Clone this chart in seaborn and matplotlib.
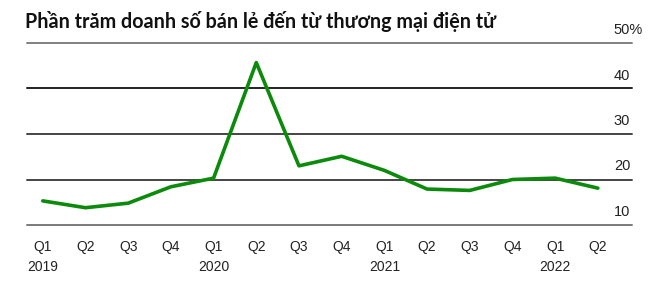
import matplotlib
matplotlib.use("Agg")
import matplotlib.pyplot as plt
import matplotlib.transforms as mtransforms
import seaborn as sns
import pandas as pd

title = "Phần trăm doanh số bán lẻ đến từ thương mại điện tử"
quarters = ["Q1", "Q2", "Q3", "Q4", "Q1", "Q2", "Q3", "Q4", "Q1", "Q2", "Q3", "Q4", "Q1", "Q2"]
years = ["2019", "", "", "", "2020", "", "", "", "2021", "", "", "", "2022", ""]
values = [15.3, 13.8, 14.8, 18.4, 20.3, 45.7, 23.0, 25.1, 22.0, 17.9, 17.6, 20.0, 20.3, 18.1]
y_ticks = [10, 20, 30, 40, 50]
y_labels = ["10", "20", "30", "40", "50%"]

df = pd.DataFrame({"idx": list(range(len(values))), "value": values})

sns.set_style("white")
plt.rcParams["font.family"] = ["Liberation Sans", "DejaVu Sans"]

fig = plt.figure(figsize=(6.71, 2.82), dpi=100)
ax = fig.add_axes([27 / 671, (282 - 225) / 282, 605 / 671, 182 / 282])

sns.lineplot(data=df, x="idx", y="value", ax=ax, color="#0c8a0c", linewidth=2.6, zorder=5)

ax.set_xlim(-0.37, 13.8)
ax.set_ylim(10, 50)
for s in ax.spines.values():
    s.set_visible(False)

grid_colors = {10: "#7a7a7a", 20: "#444444", 30: "#444444", 40: "#222222", 50: "#808080"}
for v in y_ticks:
    ax.axhline(v, color=grid_colors[v], linewidth=1.4, zorder=1, clip_on=False)

ax.set_yticks([])
offset = mtransforms.offset_copy(ax.get_yaxis_transform(), fig=fig, x=0, y=6, units="dots")
for v, lab in zip(y_ticks, y_labels):
    ax.text(0.970, v, lab, transform=offset, ha="left", va="bottom",
            fontsize=10.5, color="#222222")

labels = [q if not y else q + "\n" + y for q, y in zip(quarters, years)]
ax.set_xticks(df["idx"])
ax.set_xticklabels(labels, fontsize=10, color="#222222", linespacing=1.5, va="top")
ax.tick_params(axis="x", length=5, width=1.1, color="#555555", pad=6, direction="out")
ax.set_xlabel("")
ax.set_ylabel("")

fig.text(25 / 671, 1 - 11.5 / 282, title, ha="left", va="top", fontsize=14.2,
         fontweight="bold", family=["Lato", "DejaVu Sans"], color="#111111")

fig.savefig("out.png", dpi=100)
